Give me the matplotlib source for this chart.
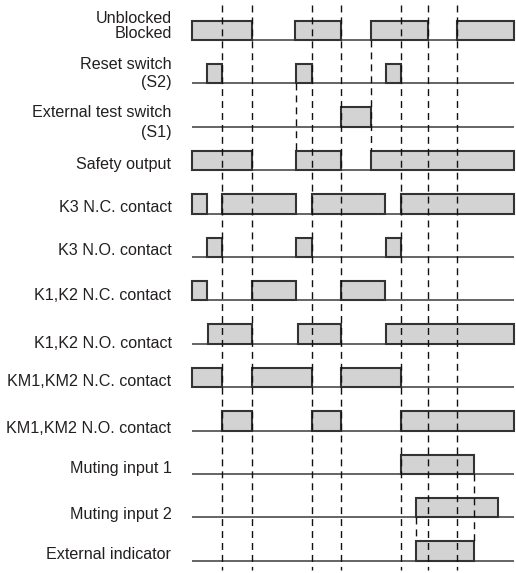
import matplotlib
matplotlib.use("Agg")
import matplotlib.pyplot as plt
from matplotlib.patches import Rectangle

# ---------------- data (time in arbitrary units) ----------------
signal_labels = [
    "Unblocked\nBlocked",
    "Reset switch\n(S2)",
    "External test switch\n(S1)",
    "Safety output",
    "K3 N.C. contact",
    "K3 N.O. contact",
    "K1,K2 N.C. contact",
    "K1,K2 N.O. contact",
    "KM1,KM2 N.C. contact",
    "KM1,KM2 N.O. contact",
    "Muting input 1",
    "Muting input 2",
    "External indicator",
]

unblocked   = [(0, 60), (103, 149), (179, 236), (265, 322)]
reset_s2    = [(15, 30), (104, 120), (194, 209)]
ext_test_s1 = [(149, 179)]
safety_out  = [(0, 60), (104, 149), (179, 322)]
k3_nc       = [(0, 15), (30, 104), (120, 193), (209, 322)]
k3_no       = [(15, 30), (104, 120), (194, 209)]
k12_nc      = [(0, 15), (60, 104), (149, 193)]
k12_no      = [(16, 60), (106, 149), (194, 322)]
km_nc       = [(0, 30), (60, 120), (149, 209)]
km_no       = [(30, 60), (120, 149), (209, 322)]
muting1     = [(209, 282)]
muting2     = [(224, 306)]
ext_ind     = [(224, 282)]

signals = [unblocked, reset_s2, ext_test_s1, safety_out, k3_nc, k3_no,
           k12_nc, k12_no, km_nc, km_no, muting1, muting2, ext_ind]

t_end = 322
sync_times = [30, 60, 120, 149, 209, 236, 265]          # full-height markers
# partial markers: (time, from row baseline, to row top)
partial_markers = [(104, 1, 3), (179, 0, 3), (282, 10, 12), (224, 11, 12)]

# ---------------- layout ----------------
W, H = 516, 573
X0 = 192            # pixel where t = 0
ROW0 = 40.0         # baseline of first row (px)
ROW_STEP = 43.39
PULSE_H = 19.3
LABEL_X = -20.5     # right edge of labels (time units, relative to t=0)

# baseline offsets for label lines (px relative to row baseline)
label_offsets = [(-16.7, -2.3), (-14.3, 4.0), (-9.4, 10.0), (-1.0,), (-1.3,),
                 (-1.7,), (-0.3,), (4.0,), (-1.6,), (2.0,), (-1.4,), (1.3,), (-1.4,)]

FILL = "#d3d3d3"
EDGE = "#333333"
TEXT = "#231f20"

fig = plt.figure(figsize=(W / 100, H / 100), dpi=100)
ax = fig.add_axes([0, 0, 1, 1])
ax.set_xlim(-X0, W - X0)
ax.set_ylim(H, 0)
ax.axis("off")


def base(r):
    return ROW0 + ROW_STEP * r


for r, (segs, lab) in enumerate(zip(signals, signal_labels)):
    yb = base(r)
    ax.plot([0, t_end], [yb, yb], color="#3a3a3a", lw=1.1, zorder=2,
            solid_capstyle="butt")
    for (s, e) in segs:
        ax.add_patch(Rectangle((s, yb - PULSE_H), e - s, PULSE_H,
                               facecolor=FILL, edgecolor=EDGE, lw=1.5,
                               zorder=3, joinstyle="miter"))
    for line, off in zip(lab.split("\n"), label_offsets[r]):
        ax.text(LABEL_X, yb + off, line, ha="right", va="baseline",
                fontsize=11.6, color=TEXT, family="Liberation Sans")

y_top, y_bot = 5, 570
for t in sync_times:
    ax.plot([t, t], [y_top, y_bot], color="#111111", lw=1.0,
            dashes=(5, 3.6), zorder=4)
for (t, r1, r2) in partial_markers:
    ax.plot([t, t], [base(r1), base(r2) - PULSE_H], color="#111111", lw=1.0,
            dashes=(5, 3.6), zorder=4)

fig.savefig("out.png", dpi=100, facecolor="white")
